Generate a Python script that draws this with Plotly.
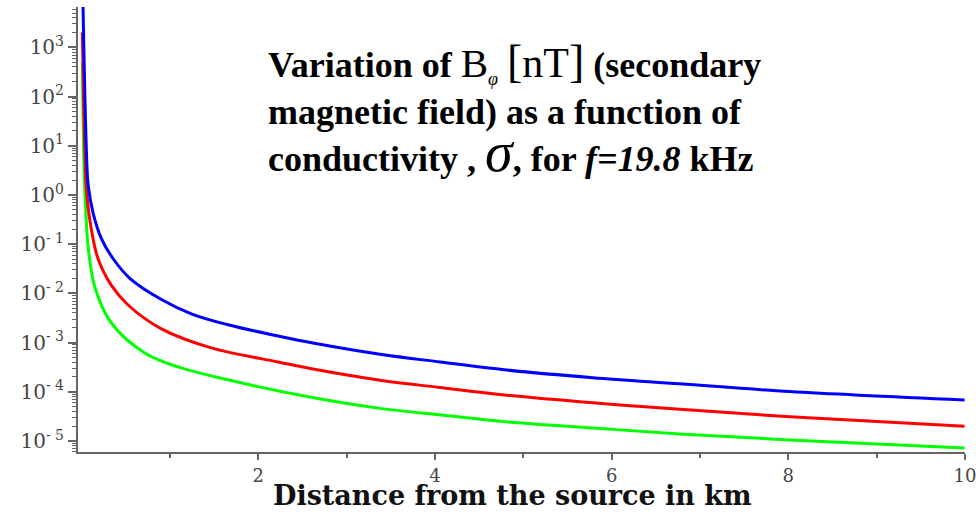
import plotly.graph_objects as go

# Secondary magnetic field B_phi [nT] vs distance from the source [km], three conductivities
blue_x = [0.010, 0.055, 0.075, 0.131, 0.225, 0.360, 0.550, 0.904, 1.250, 1.658, 2.224,
          2.620, 3.378, 4.057, 4.815, 5.787, 6.771, 8.015, 9.995]
blue_y = [3.0e4, 8.0, 1.6, 0.43, 0.13, 0.05, 0.02, 0.0075, 0.0038, 0.0023, 0.00136,
          0.00098, 0.00058, 0.000404, 0.000277, 0.000193, 0.000145, 0.000101, 6.8e-5]

red_x = [0.010, 0.045, 0.065, 0.112, 0.188, 0.338, 0.527, 0.904, 1.469, 2.224,
         2.620, 3.378, 4.057, 4.815, 5.787, 6.771, 8.015, 9.995]
red_y = [2000, 3.0, 0.8, 0.195, 0.05, 0.0145, 0.0058, 0.0019, 0.00078, 0.000404,
         0.00029, 0.000172, 0.000122, 8.5e-5, 5.95e-5, 4.4e-5, 3.1e-5, 2.0e-5]

green_x = [0.010, 0.030, 0.050, 0.075, 0.150, 0.338, 0.716, 1.093, 1.658, 2.550,
           3.378, 4.057, 4.815, 5.787, 6.771, 8.015, 9.995]
green_y = [500, 3.0, 0.4, 0.088, 0.0135, 0.0025, 0.000615, 0.00032, 0.000175, 8.0e-5,
           4.6e-5, 3.4e-5, 2.45e-5, 1.84e-5, 1.39e-5, 1.05e-5, 7.2e-6]

x_ticks = [2, 4, 6, 8, 10]
x_minor = [1, 3, 5, 7, 9]
y_exponents = [-5, -4, -3, -2, -1, 0, 1, 2, 3]

y_tickvals = [10.0 ** e for e in y_exponents]
y_ticktext = [f"10<sup>{e}</sup>" if e >= 0 else f"10<sup>- {abs(e)}</sup>" for e in y_exponents]
y_minor = [m * 10.0 ** e for e in range(-6, 4) for m in range(2, 10)]

fig = go.Figure()
for xs, ys, col in [(green_x, green_y, "#00ff00"),
                    (red_x, red_y, "#ff0000"),
                    (blue_x, blue_y, "#0000ff")]:
    fig.add_trace(go.Scatter(x=xs, y=ys, mode="lines",
                             line=dict(color=col, width=3, shape="spline", smoothing=1.0),
                             showlegend=False, hoverinfo="skip"))

axis_col = "#666666"

fig.update_xaxes(range=[-0.04, 10.0], showgrid=False, zeroline=False, automargin=False,
                 showline=True, linecolor=axis_col, linewidth=2,
                 tickvals=x_ticks, ticks="outside", ticklen=6, tickwidth=2, tickcolor=axis_col,
                 tickfont=dict(family="DejaVu Serif", size=18, color="#444444"),
                 ticklabeloverflow="allow",
                 minor=dict(tickvals=x_minor, ticks="outside", ticklen=4, tickwidth=2,
                            tickcolor=axis_col))
fig.update_yaxes(type="log", range=[-5.224, 3.821], showgrid=False, zeroline=False,
                 automargin=False,
                 showline=True, linecolor=axis_col, linewidth=2,
                 tickvals=y_tickvals, ticktext=y_ticktext,
                 ticks="outside", ticklen=8, tickwidth=2, tickcolor=axis_col,
                 tickfont=dict(family="DejaVu Serif", size=20, color="#444444"),
                 minor=dict(tickvals=y_minor, ticks="outside", ticklen=4, tickwidth=1,
                            tickcolor=axis_col))

# x-axis title placed below the tick labels
fig.add_annotation(xref="paper", yref="paper", x=0.49, y=-0.098,
                   xanchor="center", yanchor="middle", showarrow=False,
                   text="<b>Distance from the source in km</b>",
                   font=dict(family="DejaVu Serif", size=27, color="#111111"))

title_html = ("<b>Variation of </b><span style='font-size:41px'>B</span>"
              "<sub><i><span style='font-size:18px'>φ</span></i></sub> "
              "<span style='font-size:46px'>[</span>"
              "<span style='font-size:42px'>nT</span>"
              "<span style='font-size:46px'>]</span>"
              "<b> (secondary</b><br>"
              "<b>magnetic field) as a function of</b><br>"
              "<b>conductivity , </b><span style='font-size:56px'><i>σ</i></span>"
              "<b>, for <i>f=19.8</i> kHz</b>")
fig.add_annotation(xref="paper", yref="paper", x=0.212, y=0.94,
                   xanchor="left", yanchor="top", align="left", showarrow=False,
                   text=title_html,
                   font=dict(family="Liberation Serif", size=36, color="#000000"))

fig.update_layout(width=976, height=514, margin=dict(l=78, r=11, t=7, b=62),
                  paper_bgcolor="white", plot_bgcolor="white")

fig.write_html("out.html", config={"displayModeBar": False})
